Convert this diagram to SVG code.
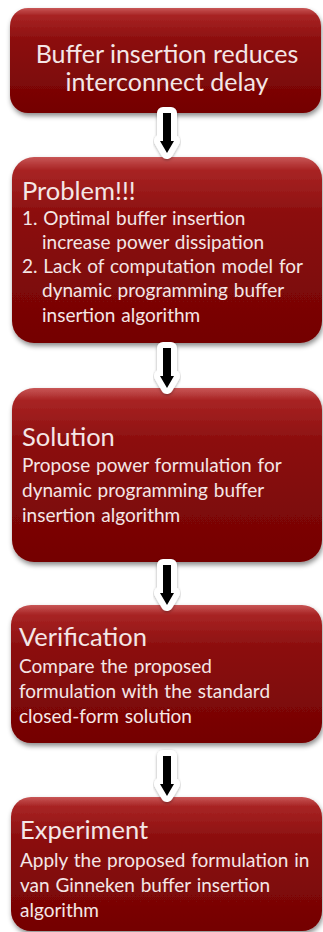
<svg xmlns="http://www.w3.org/2000/svg" width="323" height="932" viewBox="0 0 323 932">
<defs>
<linearGradient id="g" x1="0" y1="0" x2="0" y2="1">
<stop offset="0" stop-color="#c85656"/>
<stop offset="0.07" stop-color="#a82424"/>
<stop offset="0.3" stop-color="#8c0f0f"/>
<stop offset="1" stop-color="#740202"/>
</linearGradient>
<filter id="sh" x="-10%" y="-10%" width="120%" height="125%">
<feDropShadow dx="1" dy="3" stdDeviation="2.5" flood-color="#000" flood-opacity="0.45"/>
</filter>
<filter id="ash" x="-50%" y="-20%" width="200%" height="150%">
<feDropShadow dx="0" dy="1" stdDeviation="1.5" flood-color="#000" flood-opacity="0.35"/>
</filter>
<symbol id="arr" overflow="visible">
<g filter="url(#ash)">
<polygon class="aw" points="-4,0 4,0 4,28 7,28 0,40 -7,28 -4,28"/>
</g>
<polygon class="ab" points="-4,0 4,0 4,28 7,28 0,40 -7,28 -4,28"/>
</symbol>
</defs>
<style>
.box{fill:url(#g);filter:url(#sh)}
.t{fill:#f4e6e6;font-family:Lato,"Liberation Sans",sans-serif}
.h1{font-size:25px}
.hd{font-size:25.5px}
.bd{font-size:19px;word-spacing:1px}
.aw{fill:#fff;stroke:#fff;stroke-width:12;stroke-linejoin:round}
.ab{fill:#000}
</style>
<rect width="323" height="932" fill="#fff"/>
<g id="n1">
<rect class="box" x="10" y="8" width="311" height="105" rx="18"/>
<text class="t h1" x="167" y="63" text-anchor="middle">Buffer insertion reduces</text>
<text class="t h1" x="167" y="91" text-anchor="middle">interconnect delay</text>
</g>
<g id="n2">
<rect class="box" x="12" y="157" width="310" height="186" rx="22"/>
<text class="t hd" x="22" y="200">Problem!!!</text>
<text class="t bd" x="22" y="225">1. Optimal buffer insertion</text>
<text class="t bd" x="42" y="249">increase power dissipation</text>
<text class="t bd" x="22" y="273">2. Lack of computation model for</text>
<text class="t bd" x="42" y="297">dynamic programming buffer</text>
<text class="t bd" x="42" y="322">insertion algorithm</text>
</g>
<g id="n3">
<rect class="box" x="12" y="388" width="310" height="174" rx="22"/>
<text class="t hd" x="22" y="446">Solution</text>
<text class="t bd" x="22" y="472">Propose power formulation for</text>
<text class="t bd" x="22" y="497">dynamic programming buffer</text>
<text class="t bd" x="22" y="522">insertion algorithm</text>
</g>
<g id="n4">
<rect class="box" x="11" y="605" width="311" height="138" rx="20"/>
<text class="t hd" x="19" y="646">Verification</text>
<text class="t bd" x="19" y="673">Compare the proposed</text>
<text class="t bd" x="19" y="698">formulation with the standard</text>
<text class="t bd" x="19" y="723">closed-form solution</text>
</g>
<g id="n5">
<rect class="box" x="11" y="797" width="311" height="134" rx="20"/>
<text class="t hd" x="20" y="839">Experiment</text>
<text class="t bd" x="20" y="867">Apply the proposed formulation in</text>
<text class="t bd" x="20" y="892">van Ginneken buffer insertion</text>
<text class="t bd" x="20" y="917">algorithm</text>
</g>
<g id="connectors">
<use href="#arr" x="167" y="113"/>
<use href="#arr" x="167" y="348"/>
<use href="#arr" x="167" y="565"/>
<use href="#arr" x="167" y="756"/>
</g>
</svg>
